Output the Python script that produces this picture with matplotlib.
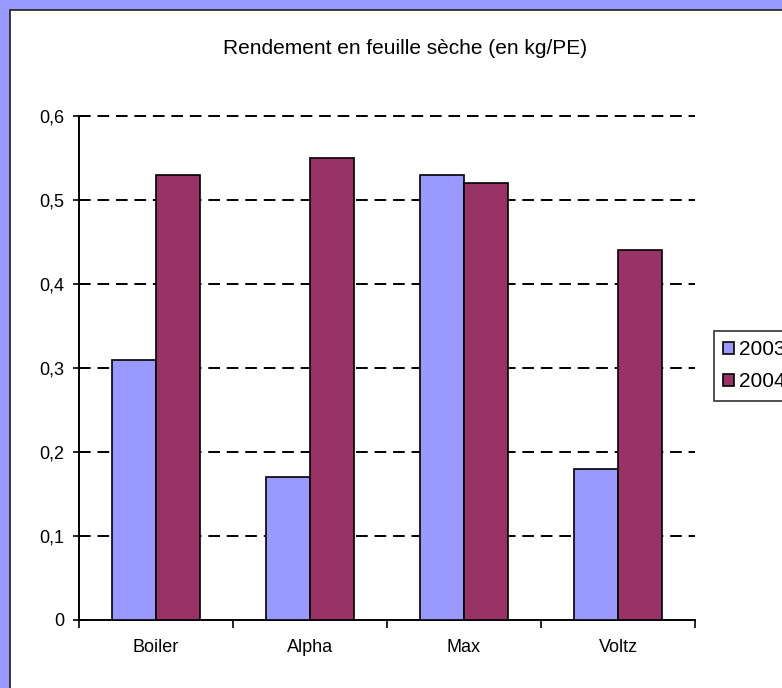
import numpy as np
import matplotlib
matplotlib.use("Agg")
import matplotlib.pyplot as plt
from matplotlib.patches import Rectangle
from matplotlib.ticker import FuncFormatter

# data
varietes = ["Boiler", "Alpha", "Max", "Voltz"]
annees = ["2003", "2004"]
rendement_2003 = [0.31, 0.17, 0.53, 0.18]
rendement_2004 = [0.53, 0.55, 0.52, 0.44]
yticks = [0, 0.1, 0.2, 0.3, 0.4, 0.5, 0.6]

col_2003 = "#9999FF"
col_2004 = "#993366"

plt.rcParams['font.family'] = ['Liberation Sans', 'DejaVu Sans']

W, H = 782, 688
fig = plt.figure(figsize=(W / 100, H / 100), dpi=100, facecolor=col_2003)

# white chart area with thin dark frame (cut off on right and bottom)
fig.patches.append(Rectangle((10 / W, -0.05), 1.1, (H - 10) / H + 0.05,
                             transform=fig.transFigure, facecolor="white",
                             edgecolor="#202020", linewidth=1.2, zorder=-10))

ax = fig.add_axes([79 / W, (H - 620) / H, (695 - 79) / W, (620 - 116) / H])
ax.set_facecolor("white")

x = np.arange(len(varietes))
bw = 0.286
ax.bar(x - bw / 2, rendement_2003, bw, color=col_2003, edgecolor="black",
       linewidth=1.2, label=annees[0], zorder=3)
ax.bar(x + bw / 2, rendement_2004, bw, color=col_2004, edgecolor="black",
       linewidth=1.2, label=annees[1], zorder=3)

ax.set_xlim(-0.5, len(varietes) - 0.5)
ax.set_ylim(0, 0.6)
ax.set_yticks(yticks)
ax.yaxis.set_major_formatter(FuncFormatter(lambda v, p: ("%g" % round(v, 1)).replace(".", ",")))
ax.set_xticks(x)
ax.set_xticklabels(varietes)
ax.set_xticks(np.arange(len(varietes) + 1) - 0.5, minor=True)
ax.tick_params(axis="x", which="major", length=0, pad=14, labelsize=13)
ax.tick_params(axis="x", which="minor", length=6, width=1.2, direction="out")
ax.tick_params(axis="y", length=9, width=1.2, direction="inout", labelsize=13, pad=6)

for v in yticks[1:]:
    ax.axhline(v, color="black", linestyle=(0, (6, 3.5)), linewidth=1.4,
               zorder=1, clip_on=False)

for s in ["top", "right"]:
    ax.spines[s].set_visible(False)
ax.spines["left"].set_linewidth(1.4)
ax.spines["bottom"].set_linewidth(1.4)

fig.text(405 / W, 1 - 48 / H, "Rendement en feuille sèche (en kg/PE)",
         ha="center", va="center", fontsize=15)

leg = fig.legend(loc="upper left", bbox_to_anchor=(714 / W, 1 - 331 / H),
                 frameon=True, fancybox=False, edgecolor="black",
                 fontsize=15, handlelength=0.5, handleheight=0.5,
                 handletextpad=0.25, borderpad=0.45, borderaxespad=0,
                 labelspacing=0.62)
leg.get_frame().set_linewidth(1.2)

fig.savefig("out.png", dpi=100, facecolor=fig.get_facecolor())
